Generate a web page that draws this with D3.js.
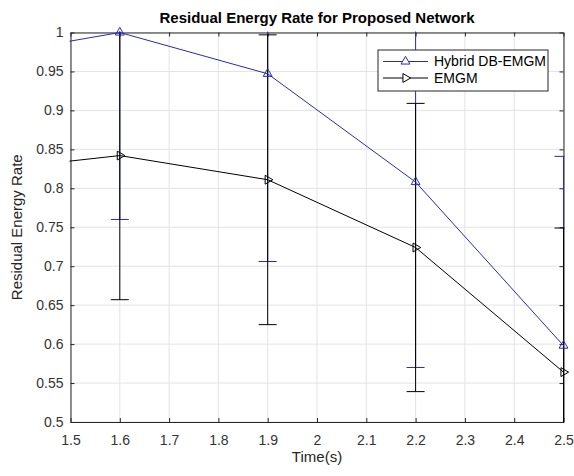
<!DOCTYPE html>
<html>
<head>
<meta charset="utf-8">
<script src="https://cdn.jsdelivr.net/npm/d3@7"></script>
<style>
  body { margin: 0; background: #fff; }
  svg { font-family: "Liberation Sans", Arial, sans-serif; }
</style>
</head>
<body>
<svg id="chart"></svg>
<script>
// data (first point lies left of the visible range)
const times = [1.3, 1.6, 1.9, 2.2, 2.5];
const hybrid = [0.967, 1.0, 0.947, 0.808, 0.598];
const hybridErr = [0.24, 0.24, 0.241, 0.238, 0.243];
const emgm = [0.821, 0.842, 0.811, 0.724, 0.564];
const emgmErr = [0.185, 0.185, 0.186, 0.185, 0.185];

const xTicks = [1.5, 1.6, 1.7, 1.8, 1.9, 2, 2.1, 2.2, 2.3, 2.4, 2.5];
const xTickLabels = ['1.5', '1.6', '1.7', '1.8', '1.9', '2', '2.1', '2.2', '2.3', '2.4', '2.5'];
const yTicks = [0.5, 0.55, 0.6, 0.65, 0.7, 0.75, 0.8, 0.85, 0.9, 0.95, 1];
const yTickLabels = ['0.5', '0.55', '0.6', '0.65', '0.7', '0.75', '0.8', '0.85', '0.9', '0.95', '1'];

const seriesNames = ['Hybrid DB-EMGM', 'EMGM'];
const seriesColors = ['#2a2ab4', '#000000'];

const W = 574, H = 476;
const margin = {top: 32.5, right: 10.5, bottom: 54, left: 70.5};
const width = W - margin.left - margin.right;
const height = H - margin.top - margin.bottom;

const svg = d3.select('#chart').attr('width', W).attr('height', H);

const x = d3.scaleLinear().domain([1.5, 2.5]).range([0, width]);
const y = d3.scaleLinear().domain([0.5, 1]).range([height, 0]);

svg.append('defs').append('clipPath').attr('id', 'clip')
  .append('rect').attr('x', -1).attr('y', -1).attr('width', width + 2).attr('height', height + 2);

const g = svg.append('g')
  .attr('transform', 'translate(' + margin.left + ',' + margin.top + ')');

// grid
g.append('g').selectAll('line').data(xTicks).enter().append('line')
  .attr('x1', d => x(d)).attr('x2', d => x(d))
  .attr('y1', 0).attr('y2', height)
  .attr('stroke', '#e3e3e3').attr('stroke-width', 1);
g.append('g').selectAll('line').data(yTicks).enter().append('line')
  .attr('y1', d => y(d)).attr('y2', d => y(d))
  .attr('x1', 0).attr('x2', width)
  .attr('stroke', '#e3e3e3').attr('stroke-width', 1);

// axes (ticks inside, box on)
const axisColor = '#262626';
const xi = {};
xTicks.forEach((t, i) => xi[t] = xTickLabels[i]);
const yi = {};
yTicks.forEach((t, i) => yi[t] = yTickLabels[i]);

const xAxis = g.append('g').attr('transform', 'translate(0,' + height + ')')
  .call(d3.axisBottom(x).tickValues(xTicks).tickFormat(d => xi[d]).tickSize(-4).tickPadding(8).tickSizeOuter(0));
const xAxisTop = g.append('g')
  .call(d3.axisTop(x).tickValues(xTicks).tickFormat('').tickSize(-4).tickSizeOuter(0));
const yAxis = g.append('g')
  .call(d3.axisLeft(y).tickValues(yTicks).tickFormat(d => yi[d]).tickSize(-4).tickPadding(7).tickSizeOuter(0));
const yAxisRight = g.append('g').attr('transform', 'translate(' + width + ',0)')
  .call(d3.axisRight(y).tickValues(yTicks).tickFormat('').tickSize(-4).tickSizeOuter(0));

[xAxis, xAxisTop, yAxis, yAxisRight].forEach(a => {
  a.selectAll('path, line').attr('stroke', axisColor);
  a.selectAll('text').attr('fill', '#333').style('font-size', '14px');
});
xAxis.selectAll('text').attr('y', 22.5).attr('dy', 0);

// series
const series = [
  {name: seriesNames[0], vals: hybrid, errs: hybridErr, color: seriesColors[0], rot: 0},
  {name: seriesNames[1], vals: emgm, errs: emgmErr, color: seriesColors[1], rot: 90}
];

const plot = g.append('g').attr('clip-path', 'url(#clip)');
const capW = 9;

series.forEach(s => {
  const pts = times.map((t, i) => ({t: t, v: s.vals[i], e: s.errs[i]}));
  const eb = plot.append('g').attr('stroke', s.color).attr('stroke-width', 1).attr('fill', 'none');
  eb.selectAll('.bar').data(pts).enter().append('line')
    .attr('x1', d => x(d.t)).attr('x2', d => x(d.t))
    .attr('y1', d => y(d.v - d.e)).attr('y2', d => y(d.v + d.e));
  eb.selectAll('.capLo').data(pts).enter().append('line')
    .attr('x1', d => x(d.t) - capW).attr('x2', d => x(d.t) + capW)
    .attr('y1', d => y(d.v - d.e)).attr('y2', d => y(d.v - d.e));
  eb.selectAll('.capHi').data(pts).enter().append('line')
    .attr('x1', d => x(d.t) - capW).attr('x2', d => x(d.t) + capW)
    .attr('y1', d => y(d.v + d.e)).attr('y2', d => y(d.v + d.e));
  s.pts = pts;
});

series.forEach(s => {
  plot.append('path').datum(s.pts)
    .attr('fill', 'none').attr('stroke', s.color).attr('stroke-width', 1)
    .attr('d', d3.line().x(d => x(d.t)).y(d => y(d.v)));
});

const tri = d3.symbol(d3.symbolTriangle, 34);
series.forEach(s => {
  g.append('g').selectAll('path')
    .data(s.pts.filter(d => d.t >= x.domain()[0] && d.t <= x.domain()[1]))
    .enter().append('path')
    .attr('d', tri)
    .attr('transform', d => 'translate(' + x(d.t) + ',' + y(d.v) + ') rotate(' + s.rot + ')')
    .attr('fill', 'none').attr('stroke', s.color).attr('stroke-width', 1);
});

// title and labels
svg.append('text')
  .attr('x', margin.left + width / 2).attr('y', 23)
  .attr('text-anchor', 'middle').style('font-size', '15px').style('font-weight', 'bold')
  .attr('fill', '#000')
  .text('Residual Energy Rate for Proposed Network');

svg.append('text')
  .attr('x', margin.left + width / 2).attr('y', 462)
  .attr('text-anchor', 'middle').style('font-size', '15px').attr('fill', '#262626')
  .text('Time(s)');

svg.append('text')
  .attr('transform', 'translate(22,' + (margin.top + height / 2) + ') rotate(-90)')
  .attr('text-anchor', 'middle').style('font-size', '15px').attr('fill', '#262626')
  .text('Residual Energy Rate');

// legend
const lg = svg.append('g').attr('transform', 'translate(378,50)');
lg.append('rect').attr('width', 170).attr('height', 41)
  .attr('fill', '#fff').attr('stroke', axisColor).attr('stroke-width', 1);
series.forEach((s, i) => {
  const ly = 11.5 + i * 16.5;
  lg.append('line').attr('x1', 5).attr('x2', 50).attr('y1', ly).attr('y2', ly)
    .attr('stroke', s.color).attr('stroke-width', 1);
  lg.append('path').attr('d', tri)
    .attr('transform', 'translate(27.5,' + ly + ') rotate(' + s.rot + ')')
    .attr('fill', '#fff').attr('stroke', s.color);
  lg.append('text').attr('x', 56).attr('y', ly).attr('dy', '0.35em')
    .style('font-size', '14px').attr('fill', '#000').text(s.name);
});
</script>
</body>
</html>
